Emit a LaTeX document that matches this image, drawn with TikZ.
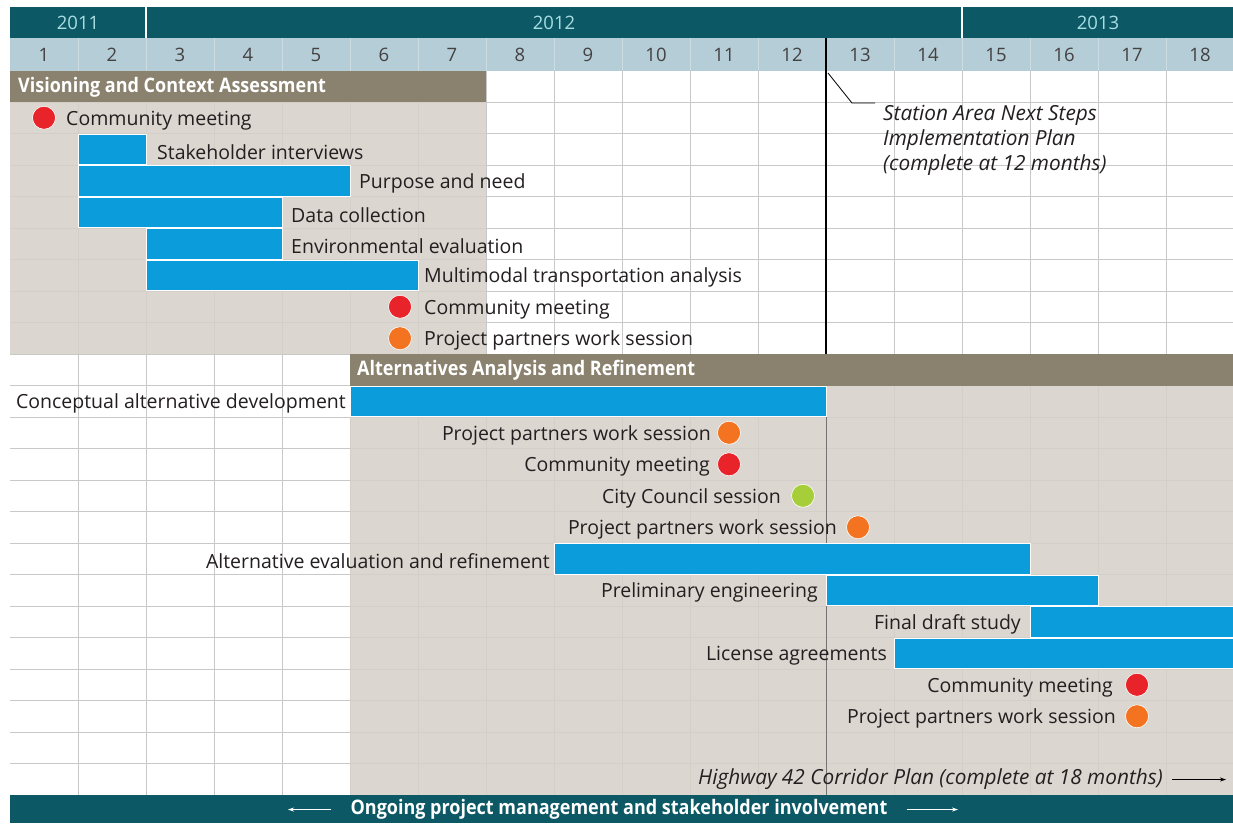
\documentclass[tikz,border=0pt]{standalone}
\usepackage{fontspec}
\setmainfont{Open Sans}
\newfontfamily\condfont{Open Sans}[FakeStretch=0.90]
\usetikzlibrary{arrows.meta}

\definecolor{tealdark}{HTML}{0C5965}
\definecolor{yeartext}{HTML}{A9DDE3}
\definecolor{monthband}{HTML}{B5CDD6}
\definecolor{taupe}{HTML}{8A826F}
\definecolor{phaseshade}{HTML}{D6D0C8}
\definecolor{gridline}{HTML}{C8C8C8}
\definecolor{barblue}{HTML}{0A9CDB}
\definecolor{dotred}{HTML}{E8232A}
\definecolor{dotorange}{HTML}{F37321}
\definecolor{dotgreen}{HTML}{A6CE39}
\definecolor{ink}{HTML}{231F20}

\begin{document}
\begin{tikzpicture}[x=1pt, y=-1pt]
	\tikzstyle{every node}=[inner sep=0pt, text=ink, font=\fontsize{19.5}{23}\selectfont]
	\tikzstyle{task}=[anchor=west, yshift=-2.5pt]
	\tikzstyle{rtask}=[anchor=east, yshift=-2.5pt]
	\tikzstyle{dot}=[circle, minimum size=23pt, draw=white, line width=0.6pt]
	\tikzstyle{bar}=[fill=barblue, draw=white, line width=0.5pt]
	\tikzstyle{phase}=[anchor=west, text=white, font=\condfont\bfseries\fontsize{20}{23}\selectfont]
	\tikzstyle{month}=[text=ink!85, font=\fontsize{18.5}{21}\selectfont]
	\tikzstyle{year}=[text=yeartext, font=\fontsize{18.5}{21}\selectfont]
	\tikzstyle{note}=[font=\itshape\fontsize{20.8}{25.2}\selectfont]

	\useasboundingbox (0,0) rectangle (1233,823);
	\fill[white] (0,0) rectangle (1233,823);

	% year and month bands
	\fill[tealdark] (10,7) rectangle (1233,38);
	\fill[monthband] (10,38) rectangle (1233,70.5);
	\draw[white, line width=1.5pt] (146,7) -- (146,38);
	\draw[white, line width=1.5pt] (962,7) -- (962,38);
	\node[year] (y2011) at (78,22.5) {2011};
	\node[year] (y2012) at (554,22.5) {2012};
	\node[year] (y2013) at (1098,22.5) {2013};
	\foreach \k in {1,...,17}
		\draw[white, opacity=0.3] ({10+68*\k},38) -- ({10+68*\k},70.5);
	\foreach \k in {1,...,18}
		\node[month] (m\k) at ({68*\k-24},54.5) {\k};

	% grid
	\foreach \k in {1,...,17}
		\draw[gridline, line width=0.7pt] ({10+68*\k},70.5) -- ({10+68*\k},795);
	\foreach \r in {1,...,22}
		\draw[gridline, line width=0.7pt] (10,{70.5+31.5*\r}) -- (1233,{70.5+31.5*\r});

	% phases
	\fill[phaseshade, fill opacity=0.87] (10,102) rectangle (486,354);
	\fill[phaseshade, fill opacity=0.87] (350,385.5) rectangle (1233,795);
	\fill[taupe] (10,70.5) rectangle (486,102);
	\fill[taupe] (350,354) rectangle (1233,385.5);
	\node[phase] (vision) at (18,87) {Visioning and Context Assessment};
	\node[phase] (alts) at (357,370.5) {Alternatives Analysis and Refinement};

	% 12 month line
	\coordinate (ms1) at (826,38);
	\coordinate (ms2) at (826,354);
	\coordinate (ms3) at (826,385.5);
	\coordinate (ms4) at (826,795);
	\draw[black, line width=1.3pt] (ms1) -- (ms2);
	\draw[black!55, line width=1pt] (ms3) -- (ms4);

	% visioning tasks
	\node[dot, fill=dotred] (d1) at (44,117.75) {};
	\node[task] (t1) at (66,117.75) {Community meeting};
	\draw[bar] (78,134) rectangle (146,164.5);
	\node[task] (t2) at (157,149.25) {Stakeholder interviews};
	\draw[bar] (78,165.5) rectangle (350,196);
	\node[task] (t3) at (359,180.75) {Purpose and need};
	\draw[bar] (78,197) rectangle (282,227.5);
	\node[task] (t4) at (291,212.25) {Data collection};
	\draw[bar] (146,228.5) rectangle (282,259);
	\node[task] (t5) at (291,243.75) {Environmental evaluation};
	\draw[bar] (146,260) rectangle (418,290.5);
	\node[task] (t6) at (424,275.25) {Multimodal transportation analysis};
	\node[dot, fill=dotred] (d2) at (400,306.75) {};
	\node[task] (t7) at (424,306.75) {Community meeting};
	\node[dot, fill=dotorange] (d3) at (400,338.25) {};
	\node[task] (t8) at (424,338.25) {Project partners work session};

	% alternatives tasks
	\draw[bar] (350,386) rectangle (826,416.5);
	\node[rtask] (a1) at (346,401.25) {Conceptual alternative development};
	\node[dot, fill=dotorange] (e1) at (729,432.75) {};
	\node[rtask] (a2) at (711,432.75) {Project partners work session};
	\node[dot, fill=dotred] (e2) at (729,464.25) {};
	\node[rtask] (a3) at (710,464.25) {Community meeting};
	\node[dot, fill=dotgreen] (e3) at (803,495.75) {};
	\node[rtask] (a4) at (781,495.75) {City Council session};
	\node[dot, fill=dotorange] (e4) at (858,527.25) {};
	\node[rtask] (a5) at (837,527.25) {Project partners work session};
	\draw[bar] (554,543.5) rectangle (1030,574);
	\node[rtask] (a6) at (550,558.75) {Alternative evaluation and refinement};
	\draw[bar] (826,575) rectangle (1098,605.5);
	\node[rtask] (a7) at (818,590.25) {Preliminary engineering};
	\draw[bar] (1030,606.5) rectangle (1234,637);
	\node[rtask] (a8) at (1021,621.75) {Final draft study};
	\draw[bar] (894,638) rectangle (1234,668.5);
	\node[rtask] (a9) at (887,653.25) {License agreements};
	\node[dot, fill=dotred] (e5) at (1137,684.75) {};
	\node[rtask] (a10) at (1113,684.75) {Community meeting};
	\node[dot, fill=dotorange] (e6) at (1137,716.25) {};
	\node[rtask] (a11) at (1116,716.25) {Project partners work session};

	% notes
	\node[note, anchor=north west, align=left] (station) at (883,105) {Station Area Next Steps\\Implementation Plan\\(complete at 12 months)};
	\coordinate (sa1) at (828,73);
	\coordinate (sa2) at (852,103);
	\coordinate (sa3) at (875,103);
	\draw[black, line width=0.8pt] (sa1) -- (sa2) -- (sa3);
	\node[note, rtask] (hwy) at (1163,777) {Highway 42 Corridor Plan (complete at 18 months)};
	\coordinate (hwyend) at (1226,777);
	\draw[-{Stealth[length=6pt,width=4pt]}, line width=0.8pt] ([xshift=9pt]hwy.east) -- (hwyend |- hwy.east);

	% ongoing
	\fill[tealdark] (10,795) rectangle (1233,823);
	\node[phase, anchor=center] (ongoing) at (619,809.5) {Ongoing project management and stakeholder involvement};
	\coordinate (og1) at (288,809);
	\coordinate (og2) at (958,809);
	\draw[white, -{Stealth[length=6pt,width=4pt]}, line width=0.8pt] ([xshift=-19pt]ongoing.west) -- (og1 |- ongoing.west);
	\draw[white, -{Stealth[length=6pt,width=4pt]}, line width=0.8pt] ([xshift=19pt]ongoing.east) -- (og2 |- ongoing.east);
\end{tikzpicture}
\end{document}
